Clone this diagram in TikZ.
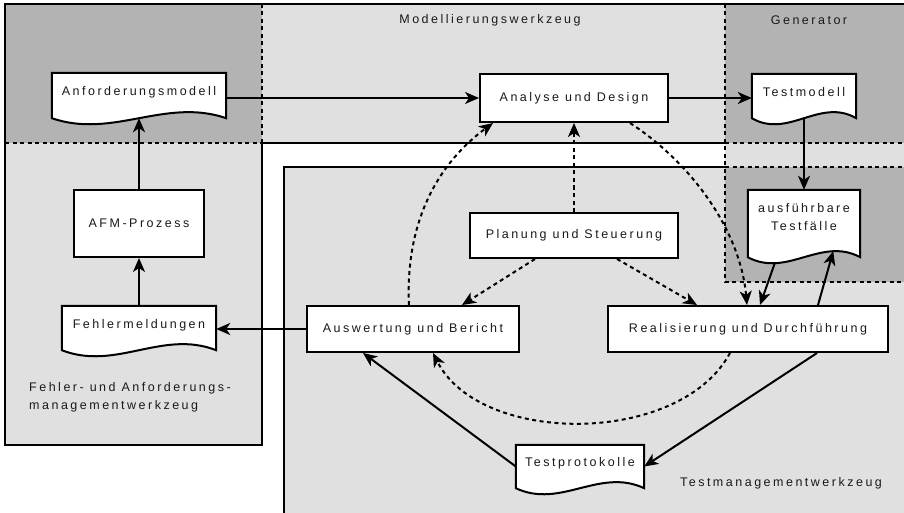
\documentclass[tikz,border=0pt]{standalone}
\usepackage{fontspec}
\setmainfont{Liberation Sans}[LetterSpace=20]
\usetikzlibrary{arrows.meta,calc}
\definecolor{toolgray}{HTML}{E0E0E0}
\definecolor{overlapgray}{HTML}{B3B3B3}
\definecolor{ink}{HTML}{1A1A1A}
\pgfdeclarelayer{regions}
\pgfdeclarelayer{docs}
\pgfsetlayers{regions,docs,main}
% outline of a document symbol with a wavy lower edge
\newcommand\docoutline[1]{%
  \draw[docline] (#1.north west) -- (#1.south west)
    .. controls ($(#1.south west)!0.35!(#1.south east)+(0,21)$)
    and ($(#1.south west)!0.65!(#1.south east)+(0,-21)$) .. (#1.south east)
    -- (#1.north east) -- cycle;}
\begin{document}
\begin{tikzpicture}[x=1pt,y=-1pt,
  every node/.style={font=\fontsize{12.5}{18.5}\selectfont, text=ink},
  procbox/.style={draw=black, line width=2pt, fill=white, inner sep=0pt},
  docnode/.style={inner sep=0pt, text height=9.5pt, text depth=9pt},
  docline/.style={draw=black, line width=2pt, fill=white},
  conn/.style={line width=2pt, -{Stealth[length=14pt,width=12pt,inset=4pt]}},
  dconn/.style={conn, dash pattern=on 4pt off 3.5pt},
  frameline/.style={line width=2pt},
  dframeline/.style={frameline, dash pattern=on 4pt off 3.5pt},
  toollabel/.style={inner sep=0pt}]
\useasboundingbox (0,0) rectangle (904,513);

% tool areas
\begin{pgfonlayer}{regions}
  \fill[toolgray] (5,4) rectangle (904,143);
  \fill[toolgray] (5,143) rectangle (262,445);
  \fill[toolgray] (284,167) rectangle (904,513);
  \fill[toolgray] (725,143) rectangle (904,167);
  \fill[overlapgray] (5,4) rectangle (262,143);
  \fill[overlapgray] (725,4) rectangle (904,143);
  \fill[overlapgray] (725,167) rectangle (904,282);
  % solid borders
  \draw[frameline] (904,4) -- (5,4) -- (5,445) -- (262,445) -- (262,143) -- (725,143);
  \draw[frameline] (284,513) -- (284,167) -- (725,167);
  % dashed borders inside overlapping tools
  \draw[dframeline] (262,4) -- (262,143);
  \draw[dframeline] (5,143) -- (262,143);
  \draw[dframeline] (725,4) -- (725,282) -- (904,282);
  \draw[dframeline] (725,143) -- (904,143);
  \draw[dframeline] (725,167) -- (904,167);
\end{pgfonlayer}

% tool names
\node[toollabel] (lblmod) at (490,20) {Modellierungswerkzeug};
\node[toollabel] (lblgen) at (809,20) {Generator};
\node[toollabel, anchor=north west, align=left] (lblafm) at (29,382)
  {Fehler- und Anforderungs-\\managementwerkzeug};
\node[toollabel] (lbltm) at (781,483) {Testmanagementwerkzeug};

% process boxes
\node[procbox, minimum width=188pt, minimum height=48pt] (ana) at (574,98) {Analyse und Design};
\node[procbox, minimum width=130pt, minimum height=67pt] (afm) at (139,223.5) {AFM-Prozess};
\node[procbox, minimum width=208pt, minimum height=45pt] (plan) at (574,235.5) {Planung und Steuerung};
\node[procbox, minimum width=212pt, minimum height=46pt] (ausw) at (413,329) {Auswertung und Bericht};
\node[procbox, minimum width=280pt, minimum height=46pt] (real) at (748,329) {Realisierung und Durchführung};

% documents
\node[docnode, minimum width=174pt, minimum height=45pt] (anf) at (139,95.5) {Anforderungsmodell};
\node[docnode, minimum width=104pt, minimum height=44pt] (tm) at (804,96) {Testmodell};
\node[docnode, minimum width=112pt, minimum height=67pt, align=center, text height=28pt, text depth=14pt] (aus) at (804,223.5) {ausführbare\\Testfälle};
\node[docnode, minimum width=154pt, minimum height=44pt] (fm) at (139,328) {Fehlermeldungen};
\node[docnode, minimum width=128pt, minimum height=43pt] (tp) at (580,466.5) {Testprotokolle};
\begin{pgfonlayer}{docs}
  \docoutline{anf}
  \docoutline{tm}
  \docoutline{aus}
  \docoutline{fm}
  \docoutline{tp}
\end{pgfonlayer}

% data flow
\draw[conn] (ana.west -| anf.east) -- (ana.west);
\draw[conn] (ana.east) -- (ana.east -| tm.west);
\draw[conn] (tm.south) -- (aus.north);
\draw[conn] (afm.north) -- (afm.north |- anf.south);
\draw[conn] (fm.north -| afm.south) -- (afm.south);
\draw[conn] (ausw.west) -- (ausw.west -| fm.east);
\draw[conn] (tp.west) -- ([xshift=-50pt]ausw.south);
\draw[conn] ([xshift=69pt]real.south) -- (tp.east);
\draw[conn] ($(aus.south west)!0.24!(aus.south east)+(0,6)$) -- ([xshift=12pt]real.north);
\draw[conn] ([xshift=70pt]real.north) -- ($(aus.south west)!0.76!(aus.south east)+(0,-6)$);

% control flow
\draw[dconn] (plan.north) -- (ana.south);
\draw[dconn] ([xshift=-39pt]plan.south) -- ([xshift=49pt]ausw.north);
\draw[dconn] ([xshift=43pt]plan.south) -- ([xshift=-51pt]real.north);
\draw[dconn] ([xshift=-4pt]ausw.north) .. controls ($(ausw.north)+(-8,-86)$)
  and ($(ana.south)+(-134,39)$) .. ([xshift=-81pt]ana.south);
\draw[dconn] ([xshift=56pt]ana.south) .. controls ($(ana.south)+(116,39)$)
  and ($(real.north)+(-8,-76)$) .. ([xshift=-1pt]real.north);
\draw[dconn] ([xshift=-18pt]real.south) .. controls ($(real.south)+(-68,93)$)
  and ($(ausw.south)+(67,93)$) .. ([xshift=20pt]ausw.south);
\end{tikzpicture}
\end{document}
